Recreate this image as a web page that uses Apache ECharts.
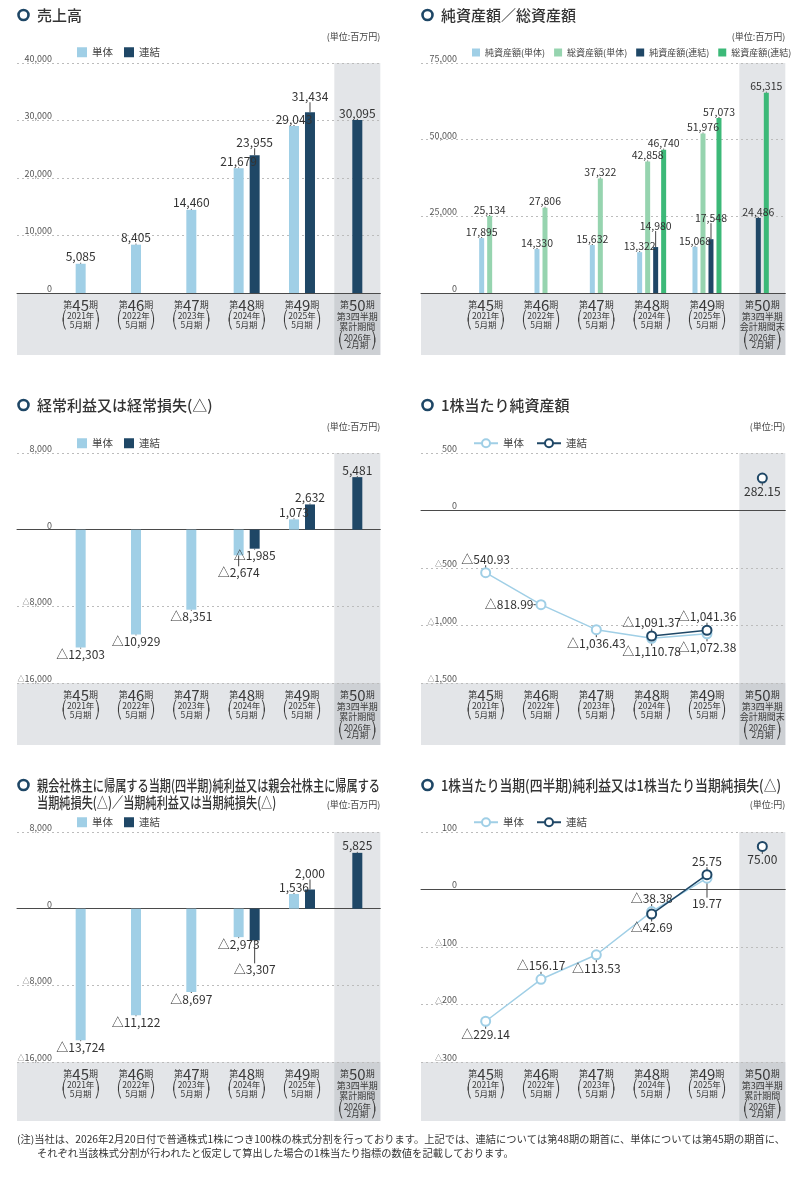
<!DOCTYPE html>
<html><head><meta charset="utf-8">
<script src="https://cdn.jsdelivr.net/npm/echarts@6/dist/echarts.min.js"></script>
<style>html,body{margin:0;padding:0;background:#fff}#c{width:800px;height:1182px}</style>
</head><body><div id="c"></div>
<script>
// ---------------- data ----------------
const periods = ['45', '46', '47', '48', '49', '50'];
const fiscalYears = ['2021年', '2022年', '2023年', '2024年', '2025年', '2026年'];
const fiscalMonths = ['5月期', '5月期', '5月期', '5月期', '5月期', '2月期'];
const lastNoteCumulative = ['第3四半期', '累計期間'];
const lastNoteBalance = ['第3四半期', '会計期間末'];

const salesTantai = [5085, 8405, 14460, 21679, 29043, null];
const salesRenketsu = [null, null, null, 23955, 31434, 30095];
const salesTicks = [0, 10000, 20000, 30000, 40000];

const netAssetsTantai = [17895, 14330, 15632, 13322, 15068, null];
const totalAssetsTantai = [25134, 27806, 37322, 42858, 51976, null];
const netAssetsRenketsu = [null, null, null, 14980, 17548, 24486];
const totalAssetsRenketsu = [null, null, null, 46740, 57073, 65315];
const assetsTicks = [0, 25000, 50000, 75000];

const ordinaryTantai = [-12303, -10929, -8351, -2674, 1073, null];
const ordinaryRenketsu = [null, null, null, -1985, 2632, 5481];
const ordinaryTicks = [-16000, -8000, 0, 8000];

const bpsTantai = [-540.93, -818.99, -1036.43, -1110.78, -1072.38, null];
const bpsRenketsu = [null, null, null, -1091.37, -1041.36, 282.15];
const bpsTicks = [-1500, -1000, -500, 0, 500];

const netIncomeTantai = [-13724, -11122, -8697, -2973, 1536, null];
const netIncomeRenketsu = [null, null, null, -3307, 2000, 5825];
const netIncomeTicks = [-16000, -8000, 0, 8000];

const epsTantai = [-229.14, -156.17, -113.53, -38.38, 19.77, null];
const epsRenketsu = [null, null, null, -42.69, 25.75, 75.00];
const epsTicks = [-300, -200, -100, 0, 100];

const footnote = [
  '(注)当社は、2026年2月20日付で普通株式1株につき100株の株式分割を行っております。上記では、連結については第48期の期首に、単体については第45期の期首に、',
  'それぞれ当該株式分割が行われたと仮定して算出した場合の1株当たり指標の数値を記載しております。'
];

// ---------------- style ----------------
const FONT = '"Noto Sans CJK JP","Noto Sans",sans-serif';
const COL = {
  tan: '#a0cfe6', ren: '#1f4766', gTan: '#96d4af', gRen: '#3cb978',
  text: '#333333', axisText: '#555555', grid: '#bcbcbc', zero: '#4a4a4a',
  band: '#e3e5e8', bandDark: '#cdd0d4', ring: '#1f4766', cat: '#3a3a3a'
};
const CAT_W = 55.33;

const mctx = document.createElement('canvas').getContext('2d');
function textW(t, font) { mctx.font = font; return mctx.measureText(t).width; }

function fmt(v, d) {
  const s = Math.abs(v).toLocaleString('en-US', {minimumFractionDigits: d, maximumFractionDigits: d});
  return (v < 0 ? '△' : '') + s;
}

const CAT_RICH = {
  s: {fontSize: 9, color: COL.cat, fontFamily: FONT, lineHeight: 14},
  b: {fontSize: 15, color: COL.cat, fontFamily: FONT, lineHeight: 14},
  m: {fontSize: 9, color: COL.cat, fontFamily: FONT, lineHeight: 10},
  n: {fontSize: 8.5, color: COL.cat, fontFamily: FONT, lineHeight: 8.5, width: 28},
  p: {fontSize: 10, color: COL.cat, fontFamily: '"DejaVu Sans"', lineHeight: 8.5},
  n2: {fontSize: 8.5, color: COL.cat, fontFamily: FONT, lineHeight: 8.5, width: 28, padding: [3, 0, 0, 0]},
  p2: {fontSize: 10, color: COL.cat, fontFamily: '"DejaVu Sans"', lineHeight: 8.5, padding: [3, 0, 0, 0]}
};
function catLabel(i, lastNote) {
  const head = '{s|第}{b|' + periods[i] + '}{s|期}';
  if (i < periods.length - 1) {
    return head + '\n{p|⎛}{n|' + fiscalYears[i] + '}{p|⎞}\n{p|⎝}{n|' + fiscalMonths[i] + '}{p|⎠}';
  }
  return head + '\n{m|' + lastNote[0] + '}\n{m|' + lastNote[1] + '}\n{p2|⎛}{n2|' + fiscalYears[i] + '}{p2|⎞}\n{p|⎝}{n|' + fiscalMonths[i] + '}{p|⎠}';
}

const option = {
  backgroundColor: '#ffffff', animation: false, textStyle: {fontFamily: FONT},
  grid: [], xAxis: [], yAxis: [], series: [], legend: [], graphic: {elements: []}
};
const G = option.graphic.elements;

function addBars(p, gi, xi, yi) {
  const present = periods.map((_, c) => p.series.map((s, si) => s.values[c] != null ? si : -1).filter(si => si >= 0));
  const counts = [...new Set(present.map(a => a.length))].sort((a, b) => b - a);
  counts.forEach((k, ki) => {
    let ax = xi;
    if (ki > 0) {
      ax = option.xAxis.length;
      option.xAxis.push({gridIndex: gi, type: 'category', data: periods.map(n => '第' + n + '期'), show: false});
    }
    for (let j = 0; j < k; j++) {
      p.series.forEach((s, si) => {
        const data = periods.map((_, c) => {
          if (present[c].length !== k || present[c][j] !== si) return null;
          const v = s.values[c];
          return {value: v, label: {position: v < 0 ? 'bottom' : 'top', offset: [(s.dx && s.dx[c]) || 0, 0]}};
        });
        if (!data.some(d => d)) return;
        const leads = periods.map((_, c) => data[c] ? ((s.lead && s.lead[c]) || 0) : 0);
        option.series.push({
          type: 'bar', name: p.id + '|' + s.name, xAxisIndex: ax, yAxisIndex: yi,
          stack: p.id + '-' + k + '-' + j, barWidth: p.barWidth, barGap: p.barGap,
          data, itemStyle: {color: s.color},
          label: {show: true, distance: 1, fontSize: p.labelSize, color: COL.text, fontFamily: FONT,
                  formatter: q => fmt(q.value, 0)},
          labelLine: {show: true, lineStyle: {color: '#444', width: 1}},
          labelLayout: q => leads[q.dataIndex] ? {dy: leads[q.dataIndex]} : {}
        });
      });
    }
  });
}

function addLines(p, xi, yi) {
  const n = periods.length;
  p.series.forEach((s, si) => {
    const main = s.values.map((v, c) => c < n - 1 ? v : null);
    const tail = s.values.map((v, c) => c === n - 1 ? v : null);
    [main, tail].forEach(vals => {
      if (!vals.some(v => v != null)) return;
      const data = vals.map((v, c) => v == null ? null :
        {value: v, label: {position: s.pos[c], offset: [(s.dx && s.dx[c]) || 0, 0]}});
      const leads = vals.map((v, c) => v == null ? 0 : ((s.lead && s.lead[c]) || 0));
      option.series.push({
        type: 'line', name: p.id + '|' + s.name, xAxisIndex: xi, yAxisIndex: yi, data,
        z: 2 + si,
        symbol: 'emptyCircle', symbolSize: 9, connectNulls: false,
        lineStyle: {color: s.color, width: 1.5}, itemStyle: {color: s.color, borderWidth: 1.8},
        label: {show: true, distance: 2, fontSize: 12, color: COL.text, fontFamily: FONT, formatter: q => fmt(q.value, 2)},
        labelLine: {show: true, lineStyle: {color: '#444', width: 1}},
        labelLayout: q => leads[q.dataIndex] ? {dy: leads[q.dataIndex]} : {}
      });
    });
  });
}

function addPanel(p) {
  const gi = option.grid.length;
  const width = CAT_W * periods.length;
  const c50 = p.catLeft + CAT_W * (periods.length - 0.5);
  const right = c50 + 23;
  option.grid.push({left: p.catLeft, top: p.top, width: width, height: p.bottom - p.top, outerBoundsMode: 'none'});
  option.grid.push({left: p.x0, top: p.top, width: right - p.x0, height: p.bottom - p.top, outerBoundsMode: 'none'});
  const t = p.ticks, yMin = t[0], yMax = t[t.length - 1], yInt = t[1] - t[0];
  const yi = option.yAxis.length;
  option.yAxis.push({
    gridIndex: gi, type: 'value', min: yMin, max: yMax, interval: yInt,
    axisLine: {show: false}, axisTick: {show: false}, splitLine: {show: false},
    axisLabel: {margin: 1, verticalAlign: 'bottom', fontSize: 9, color: COL.axisText, fontFamily: FONT,
      showMinLabel: true, showMaxLabel: true,
      formatter: v => v < 0 ? '{t|△}' + fmt(-v, 0) : fmt(v, 0),
      rich: {t: {fontSize: 7, color: COL.axisText, fontFamily: FONT}}}
  });
  option.yAxis.push({
    gridIndex: gi + 1, type: 'value', min: yMin, max: yMax, interval: yInt,
    axisLine: {show: false}, axisTick: {show: false}, axisLabel: {show: false},
    splitLine: {show: true, lineStyle: {color: COL.grid, type: [2, 3], width: 1}}
  });
  const xi = option.xAxis.length;
  option.xAxis.push({
    gridIndex: gi, type: 'category', data: periods.map(n => '第' + n + '期'), boundaryGap: true,
    axisLine: {show: false, onZero: false}, axisTick: {show: false}, splitLine: {show: false},
    axisLabel: {interval: 0, margin: 5, color: COL.cat, formatter: (v, i) => catLabel(i, p.lastNote), rich: CAT_RICH}
  });
  option.xAxis.push({
    gridIndex: gi + 1, type: 'value', min: 0, max: 1,
    axisLabel: {show: false}, axisTick: {show: false}, splitLine: {show: false},
    axisLine: {show: true, onZero: true, lineStyle: {color: COL.zero, width: 1}}
  });
  if (p.kind === 'bar') addBars(p, gi, xi, yi); else addLines(p, xi, yi);

  // legend
  const lg = {
    left: p.legendLeft, top: p.legendY - p.legendH / 2, padding: 0, orient: 'horizontal',
    itemWidth: p.legendIconW, itemHeight: p.legendH, itemGap: p.legendGap, selectedMode: false,
    data: p.series.map(s => p.id + '|' + s.name),
    formatter: nm => nm.split('|')[1],
    textStyle: {fontSize: p.legendFont, color: '#444', fontFamily: FONT}
  };
  if (p.kind === 'bar') lg.icon = 'rect';
  option.legend.push(lg);

  // background bands
  G.push({type: 'rect', z: -10, shape: {x: p.x0, y: p.bottom, width: right - p.x0, height: p.bandBottom - p.bottom}, style: {fill: COL.band}});
  G.push({type: 'rect', z: -10, shape: {x: c50 - 23, y: p.top, width: 46, height: p.bottom - p.top}, style: {fill: COL.band}});
  G.push({type: 'rect', z: -9, shape: {x: c50 - 23, y: p.bottom, width: 46, height: p.bandBottom - p.bottom}, style: {fill: COL.bandDark}});
  // title
  G.push({type: 'circle', z: 10, shape: {cx: p.x0 + 6.5, cy: p.titleY, r: 5}, style: {fill: '#fff', stroke: COL.ring, lineWidth: 2.6}});
  const tFont = '500 15px ' + FONT;
  let sx = 1;
  if (p.titleWidth) sx = p.titleWidth / textW(p.title[0], tFont);
  const lh = p.titleLH || 17;
  p.title.forEach((line, li) => {
    G.push({type: 'text', z: 10, x: p.x0 + 20, y: p.titleY + li * lh, scaleX: sx,
      style: {text: line, font: tFont, fill: '#333', textVerticalAlign: 'middle', verticalAlign: 'middle'}});
  });
  G.push({type: 'text', z: 10, x: right, y: p.unitY,
    style: {text: p.unit, font: '400 9px ' + FONT, fill: '#444', textAlign: 'right', align: 'right', textVerticalAlign: 'middle', verticalAlign: 'middle'}});
}

const LEFT = {x0: 17, catLeft: 53};
const RIGHT = {x0: 421, catLeft: 458};
const barLegend = {legendIconW: 10, legendH: 10, legendGap: 11, legendFont: 10.5};
const lineLegend = {legendIconW: 24, legendH: 10, legendGap: 12, legendFont: 10.5};

const panels = [
  Object.assign({id: 'p1', kind: 'bar', top: 63, bottom: 293, bandBottom: 355, ticks: salesTicks, lastNote: lastNoteCumulative,
    barWidth: 10, barGap: '60%', labelSize: 12, title: ['売上高'], titleY: 15, unit: '(単位:百万円)', unitY: 37,
    legendLeft: 77, legendY: 52,
    series: [
      {name: '単体', color: COL.tan, values: salesTantai, dx: [0, 0, 0, -13, -13, 0]},
      {name: '連結', color: COL.ren, values: salesRenketsu, dx: [0, 0, 0, 1, 1, 0], lead: [0, 0, 0, -6, -9, 0]}
    ]}, LEFT, barLegend),
  Object.assign({id: 'p2', kind: 'bar', top: 63, bottom: 293, bandBottom: 355, ticks: assetsTicks, lastNote: lastNoteBalance,
    barWidth: 5, barGap: '60%', labelSize: 10.5, title: ['純資産額／総資産額'], titleY: 15, unit: '(単位:百万円)', unitY: 37,
    legendLeft: 472, legendY: 52,
    series: [
      {name: '純資産額(単体)', color: COL.tan, values: netAssetsTantai, dx: [-12, -12, -12, -12, -11, 0]},
      {name: '総資産額(単体)', color: COL.gTan, values: totalAssetsTantai, dx: [0, 0, 0, -12, -12, 0]},
      {name: '純資産額(連結)', color: COL.ren, values: netAssetsRenketsu, dx: [0, 0, 0, 0, 1, 0], lead: [0, 0, 0, -15, -15, 0]},
      {name: '総資産額(連結)', color: COL.gRen, values: totalAssetsRenketsu}
    ]}, RIGHT, barLegend, {legendIconW: 8, legendH: 8, legendGap: 9, legendFont: 9}),
  Object.assign({id: 'p3', kind: 'bar', top: 453, bottom: 683, bandBottom: 745, ticks: ordinaryTicks, lastNote: lastNoteCumulative,
    barWidth: 10, barGap: '60%', labelSize: 12, title: ['経常利益又は経常損失(△)'], titleY: 405, unit: '(単位:百万円)', unitY: 427,
    legendLeft: 77, legendY: 443,
    series: [
      {name: '単体', color: COL.tan, values: ordinaryTantai, dx: [0, 0, 0, -5, -7, 0], lead: [0, 0, 0, 10, 0, 0]},
      {name: '連結', color: COL.ren, values: ordinaryRenketsu, dx: [0, 0, 0, 14, 1, 0]}
    ]}, LEFT, barLegend),
  Object.assign({id: 'p4', kind: 'line', top: 453, bottom: 683, bandBottom: 745, ticks: bpsTicks, lastNote: lastNoteBalance,
    title: ['1株当たり純資産額'], titleY: 405, unit: '(単位:円)', unitY: 427,
    legendLeft: 473, legendY: 443,
    series: [
      {name: '単体', color: COL.tan, values: bpsTantai, pos: ['top', 'left', 'bottom', 'bottom', 'bottom', 'bottom'], dx: [4, 0, -3, 0, 14, 0]},
      {name: '連結', color: COL.ren, values: bpsRenketsu, pos: ['top', 'top', 'top', 'top', 'top', 'bottom'], dx: [0, 0, 0, 0, 14, 0]}
    ]}, RIGHT, lineLegend),
  Object.assign({id: 'p5', kind: 'bar', top: 832, bottom: 1062, bandBottom: 1121, ticks: netIncomeTicks, lastNote: lastNoteCumulative,
    barWidth: 10, barGap: '60%', labelSize: 12,
    title: ['親会社株主に帰属する当期(四半期)純利益又は親会社株主に帰属する', '当期純損失(△)／当期純利益又は当期純損失(△)'],
    titleWidth: 343, titleLH: 17, titleY: 785, unit: '(単位:百万円)', unitY: 805,
    legendLeft: 77, legendY: 822,
    series: [
      {name: '単体', color: COL.tan, values: netIncomeTantai, dx: [0, 0, 0, -11, -7, 0]},
      {name: '連結', color: COL.ren, values: netIncomeRenketsu, dx: [0, 0, 0, 0, 1, 0], lead: [0, 0, 0, 22, -9, 0]}
    ]}, LEFT, barLegend),
  Object.assign({id: 'p6', kind: 'line', top: 832, bottom: 1062, bandBottom: 1121, ticks: epsTicks, lastNote: lastNoteCumulative,
    title: ['1株当たり当期(四半期)純利益又は1株当たり当期純損失(△)'], titleWidth: 340, titleY: 785, unit: '(単位:円)', unitY: 805,
    legendLeft: 473, legendY: 822,
    series: [
      {name: '単体', color: COL.tan, values: epsTantai, pos: ['bottom', 'top', 'bottom', 'top', 'bottom', 'bottom'], dx: [0, -1, 1, -9, -1, 0], lead: [0, 0, 0, 0, 12, 0]},
      {name: '連結', color: COL.ren, values: epsRenketsu, pos: ['top', 'top', 'top', 'bottom', 'top', 'bottom'], dx: [0, 0, 0, 14, -1, 0]}
    ]}, RIGHT, lineLegend)
];
panels.forEach(addPanel);

// footnote
const fnFont = '400 10px ' + FONT;
const fnScale = 768 / textW(footnote[0], fnFont);
G.push({type: 'text', z: 10, x: 17, y: 1139, scaleX: fnScale, style: {text: footnote[0], font: fnFont, fill: '#333', textVerticalAlign: 'middle', verticalAlign: 'middle'}});
G.push({type: 'text', z: 10, x: 37, y: 1153, scaleX: fnScale, style: {text: footnote[1], font: fnFont, fill: '#333', textVerticalAlign: 'middle', verticalAlign: 'middle'}});

const chart = echarts.init(document.getElementById('c'), null, {renderer: 'canvas'});
chart.setOption(option);
</script>
</body></html>
